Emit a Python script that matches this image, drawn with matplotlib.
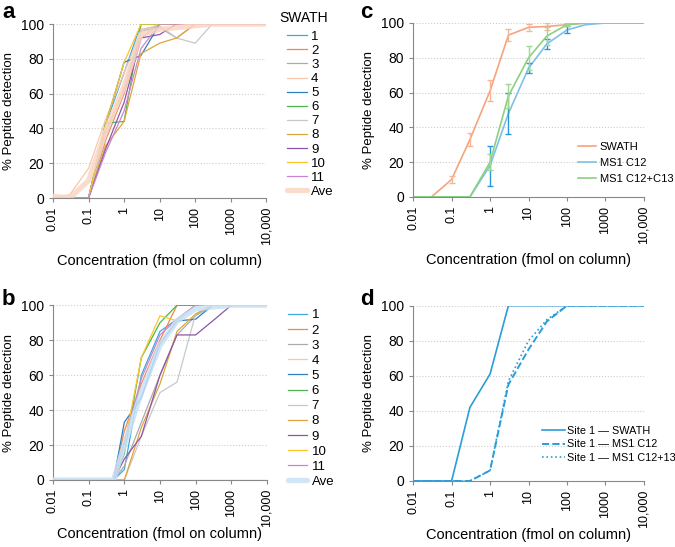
import numpy as np
import matplotlib.pyplot as plt

plt.rcParams['font.family'] = ['Liberation Sans', 'DejaVu Sans']
plt.rcParams['font.size'] = 9

# (1) Dados
conc_a = [0.01, 0.03, 0.1, 0.3, 1, 3, 10, 30, 100, 300, 1000, 10000]
swath_a = {
    '1': [0, 0, 0, 42, 72, 100, 100, 100, 100, 100, 100, 100],
    '2': [0, 0, 0, 33, 60, 92, 100, 100, 100, 100, 100, 100],
    '3': [0, 0, 0, 38, 62, 96, 98, 92, 100, 100, 100, 100],
    '4': [0, 2, 17, 45, 72, 96, 100, 100, 100, 100, 100, 100],
    '5': [0, 0, 0, 42, 78, 82, 100, 100, 100, 100, 100, 100],
    '6': [0, 0, 0, 43, 44, 100, 100, 100, 100, 100, 100, 100],
    '7': [0, 0, 0, 35, 64, 97, 99, 92, 89, 100, 100, 100],
    '8': [0, 0, 0, 30, 44, 83, 89, 92, 100, 100, 100, 100],
    '9': [0, 0, 0, 28, 55, 92, 94, 100, 100, 100, 100, 100],
    '10': [0, 0, 0, 42, 78, 100, 100, 100, 100, 100, 100, 100],
    '11': [0, 0, 0, 26, 50, 86, 100, 100, 100, 100, 100, 100],
}
ave_a = [1, 0, 10, 38, 64, 94, 97, 98, 99, 100, 100, 100]

conc_b = [0.01, 0.03, 0.1, 0.5, 1, 3, 10, 30, 100, 300, 1000, 10000]
swath_b = {
    '1': [0, 0, 0, 0, 6, 60, 85, 92, 100, 100, 100, 100],
    '2': [0, 0, 0, 0, 28, 55, 80, 100, 100, 100, 100, 100],
    '3': [0, 0, 0, 0, 8, 33, 60, 83, 94, 100, 100, 100],
    '4': [0, 0, 0, 0, 0, 0, 0, 0, 0, 0, 0, 0],
    '5': [0, 0, 0, 0, 33, 47, 78, 91, 92, 100, 100, 100],
    '6': [0, 0, 0, 0, 15, 70, 90, 100, 100, 100, 100, 100],
    '7': [0, 0, 0, 0, 0, 25, 50, 56, 95, 100, 100, 100],
    '8': [0, 0, 0, 0, 0, 30, 55, 85, 95, 100, 100, 100],
    '9': [0, 0, 0, 0, 12, 25, 60, 83, 83, 91, 100, 100],
    '10': [0, 0, 0, 0, 20, 70, 94, 91, 100, 100, 100, 100],
    '11': [0, 0, 0, 0, 22, 58, 83, 92, 100, 100, 100, 100],
}
ave_b = [0, 0, 0, 0, 20, 50, 77, 91, 98, 99, 100, 100]

conc_c = [0.01, 0.03, 0.1, 0.3, 1, 3, 10, 30, 100, 300, 1000, 10000]
swath_c = [0, 0, 10, 33, 61, 93, 97.5, 98, 99, 100, 100, 100]
swath_c_err = [0, 0, 2, 3.5, 6, 3.5, 2, 2, 0, 0, 0, 0]
ms1_c12 = [0, 0, 0, 0, 18, 48, 74, 88, 96, 99, 100, 100]
ms1_c12_err = [0, 0, 0, 0, 11.5, 12, 3, 3, 2, 0, 0, 0]
ms1_c13 = [0, 0, 0, 0, 20, 58, 80, 92.5, 99, 100, 100, 100]
ms1_c13_err = [0, 0, 0, 0, 4.5, 7, 7, 5, 1, 0, 0, 0]

conc_d = [0.01, 0.1, 0.3, 1, 3, 10, 30, 100, 1000, 10000]
site1_swath = [0, 0, 42, 61, 100, 100, 100, 100, 100, 100]
site1_c12 = [0, 0, 0, 6, 55, 75, 91, 100, 100, 100]
site1_c13 = [0, 0, 0, 6, 57, 80, 92, 100, 100, 100]

x_ticks = [0.01, 0.1, 1, 10, 100, 1000, 10000]
x_labels = ['0.01', '0.1', '1', '10', '100', '1000', '10,000']

cores = ['#3DA9E0', '#F4874B', '#ABABAB', '#F9C6A8', '#2E7EC2', '#4DB54A',
         '#C8C8C8', '#E0A53A', '#8E55A8', '#FDC52C', '#C986D0']


# (2) Formatação comum dos eixos
def formatar(ax, pad):
    ax.set_xscale('log')
    ax.set_xlim(0.01, 10000)
    ax.set_ylim(0, 100)
    ax.set_xticks(x_ticks)
    ax.set_xticklabels(x_labels, rotation=90)
    ax.minorticks_off()
    ax.set_yticks([0, 20, 40, 60, 80, 100])
    ax.tick_params(axis='x', labelsize=9, color='#888888', length=3)
    ax.tick_params(axis='y', labelsize=10, color='#888888', length=3)
    for lado in ['top', 'right']:
        ax.spines[lado].set_visible(False)
    for lado in ['left', 'bottom']:
        ax.spines[lado].set_color('#888888')
        ax.spines[lado].set_linewidth(0.8)
    for y in [20, 40, 60, 80, 100]:
        ax.axhline(y, color='#CCCCCC', linestyle=':', linewidth=0.8, zorder=0)
    ax.set_xlabel('Concentration (fmol on column)', fontsize=10.5,
                  labelpad=pad)
    ax.set_ylabel('% Peptide detection', fontsize=9.5)


fig = plt.figure(figsize=(6.75, 5.47), dpi=100)
ax_a = fig.add_axes([0.0785, 0.638, 0.316, 0.318])
ax_c = fig.add_axes([0.612, 0.640, 0.342, 0.318])
ax_b = fig.add_axes([0.0785, 0.1225, 0.317, 0.3195])
ax_d = fig.add_axes([0.612, 0.1207, 0.342, 0.3205])

# (3) Painel a
for i, (nome, vals) in enumerate(swath_a.items()):
    ax_a.plot(conc_a, vals, color=cores[i], linewidth=0.9, label=nome)
ax_a.plot(conc_a, ave_a, color='#FAD6C4', linewidth=3.8, label='Ave',
          solid_capstyle='round', alpha=0.85, zorder=3)
formatar(ax_a, 6)
ax_a.legend(loc='upper left', bbox_to_anchor=(1.099, 0.962), frameon=False,
            fontsize=9.5, handlelength=1.45, handletextpad=0.35,
            labelspacing=0.14, borderpad=0, borderaxespad=0)
fig.text(279 / 675, 1 - 18 / 547, 'SWATH', fontsize=10, va='center')

# Painel b
for i, (nome, vals) in enumerate(swath_b.items()):
    ax_b.plot(conc_b, vals, color=cores[i], linewidth=0.9, label=nome)
ax_b.plot(conc_b, ave_b, color='#C8E2F6', linewidth=3.8, label='Ave',
          solid_capstyle='round', alpha=0.85, zorder=3)
formatar(ax_b, 0)
ax_b.legend(loc='upper left', bbox_to_anchor=(1.098, 0.977), frameon=False,
            fontsize=9.5, handlelength=1.45, handletextpad=0.35,
            labelspacing=0.22, borderpad=0, borderaxespad=0)

# Painel c
series_c = [
    (swath_c, swath_c_err, '#F5A47C', '#F7B595', 'SWATH'),
    (ms1_c12, ms1_c12_err, '#7DC1EA', '#2C97D6', 'MS1 C12'),
    (ms1_c13, ms1_c13_err, '#8DD07F', '#9ED892', 'MS1 C12+C13'),
]
for vals, err, cor, cor_err, nome in series_c:
    ax_c.plot(conc_c, vals, color=cor, linewidth=1.2, label=nome)
    idx = [k for k in range(len(err)) if err[k] > 0]
    ax_c.errorbar([conc_c[k] for k in idx], [vals[k] for k in idx],
                  yerr=[err[k] for k in idx], fmt='none', ecolor=cor_err,
                  elinewidth=1.0, capsize=2, capthick=1.0)
formatar(ax_c, 6)
ax_c.legend(loc='upper left', bbox_to_anchor=(0.714, 0.318), frameon=False,
            fontsize=8, handlelength=1.6, handletextpad=0.35,
            labelspacing=0.55, borderpad=0, borderaxespad=0)

# Painel d
azul = '#2A9DDA'
ax_d.plot(conc_d, site1_swath, color=azul, linewidth=1.2,
          label='Site 1 \u2014 SWATH')
ax_d.plot(conc_d, site1_c12, color=azul, linewidth=1.4, linestyle='--',
          label='Site 1 \u2014 MS1 C12')
ax_d.plot(conc_d, site1_c13, color=azul, linewidth=1.2, linestyle=':',
          label='Site 1 \u2014 MS1 C12+13')
formatar(ax_d, 0)
ax_d.legend(loc='upper left', bbox_to_anchor=(0.558, 0.316), frameon=False,
            fontsize=7.8, handlelength=2.1, handletextpad=0.2,
            labelspacing=0.35, borderpad=0, borderaxespad=0)

# Letras dos painéis
for letra, x, y in [('a', 0.003, 0.977), ('c', 0.533, 0.977),
                    ('b', 0.003, 0.4516), ('d', 0.533, 0.4516)]:
    fig.text(x, y, letra, fontsize=16, fontweight='bold', va='center')

plt.savefig('out.png', dpi=100)
